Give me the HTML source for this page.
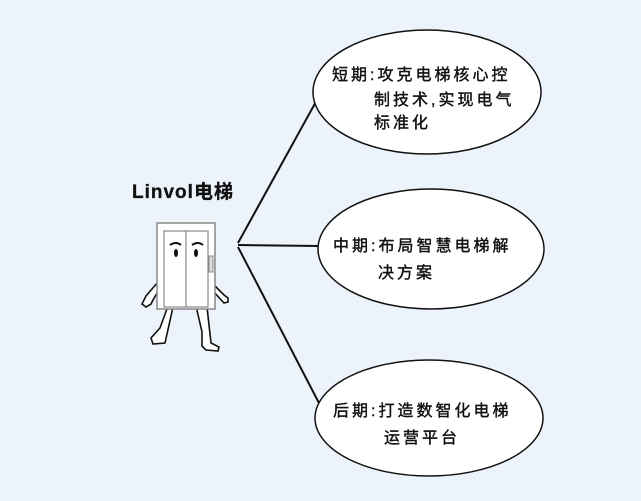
<!DOCTYPE html><html><head><meta charset="utf-8"><style>
body{margin:0;width:641px;height:501px;background:#edf3fa;overflow:hidden}
svg{position:absolute;left:0;top:0}
text{font-family:"Liberation Sans","WenQuanYi Zen Hei","Noto Sans CJK SC",sans-serif;font-size:16px;fill:#111;letter-spacing:3px;stroke:#111;stroke-width:0.4}
</style></head><body>
<svg width="641" height="501" viewBox="0 0 641 501">
<g stroke="#111" stroke-width="2" fill="none">
<line x1="238" y1="243" x2="318" y2="98"/>
<line x1="238" y1="245" x2="320" y2="246"/>
<line x1="238" y1="247" x2="320" y2="405"/>
</g>
<ellipse cx="427" cy="92" rx="114" ry="62" fill="#fff" stroke="#111" stroke-width="1.5"/>
<ellipse cx="431" cy="249" rx="113" ry="60" fill="#fff" stroke="#111" stroke-width="1.5"/>
<ellipse cx="429" cy="418" rx="114" ry="58" fill="#fff" stroke="#111" stroke-width="1.5"/>
<text x="332" y="80">短期:攻克电梯核心控</text>
<text x="374" y="105">制技术,实现电气</text>
<text x="374" y="128">标准化</text>
<text x="333" y="251">中期:布局智慧电梯解</text>
<text x="378" y="278">决方案</text>
<text x="333" y="416">后期:打造数智化电梯</text>
<text x="384" y="443">运营平台</text>
<text x="132" y="198" style="font-size:19px;font-weight:bold;letter-spacing:1px;stroke-width:0.3">Linvol电梯</text>
<!-- elevator -->
<g stroke="#111" stroke-width="1.6" fill="#fff">
<path d="M168 306l-8 22 -9 10 2 6 12-1 8-36 M162 320"/>
<path d="M196 306l6 26 0 14 4 4 12 1 1-4-8-4-4-36"/>
<path d="M158 282l-12 14 -4 8 4 3 5-3 2-4 7-12"/>
<path d="M214 285l10 10 4 3 0 4-4 1-11-12"/>
</g>
<rect x="157" y="223" width="58" height="86" fill="#fff" stroke="#888" stroke-width="1.5"/>
<rect x="164" y="231" width="44" height="76" fill="#fff" stroke="#888" stroke-width="1.2"/>
<line x1="186" y1="231" x2="186" y2="307" stroke="#888" stroke-width="1.2"/>
<rect x="209" y="256" width="4" height="16" fill="#ddd" stroke="#888"/>
<path d="M170 245q6-4 11 0M192 245q6-4 11 0" stroke="#111" stroke-width="2" fill="none"/>
<ellipse cx="176" cy="253" rx="2" ry="4" fill="#111"/><ellipse cx="196" cy="253" rx="2" ry="4" fill="#111"/>
</svg>
</body></html>
